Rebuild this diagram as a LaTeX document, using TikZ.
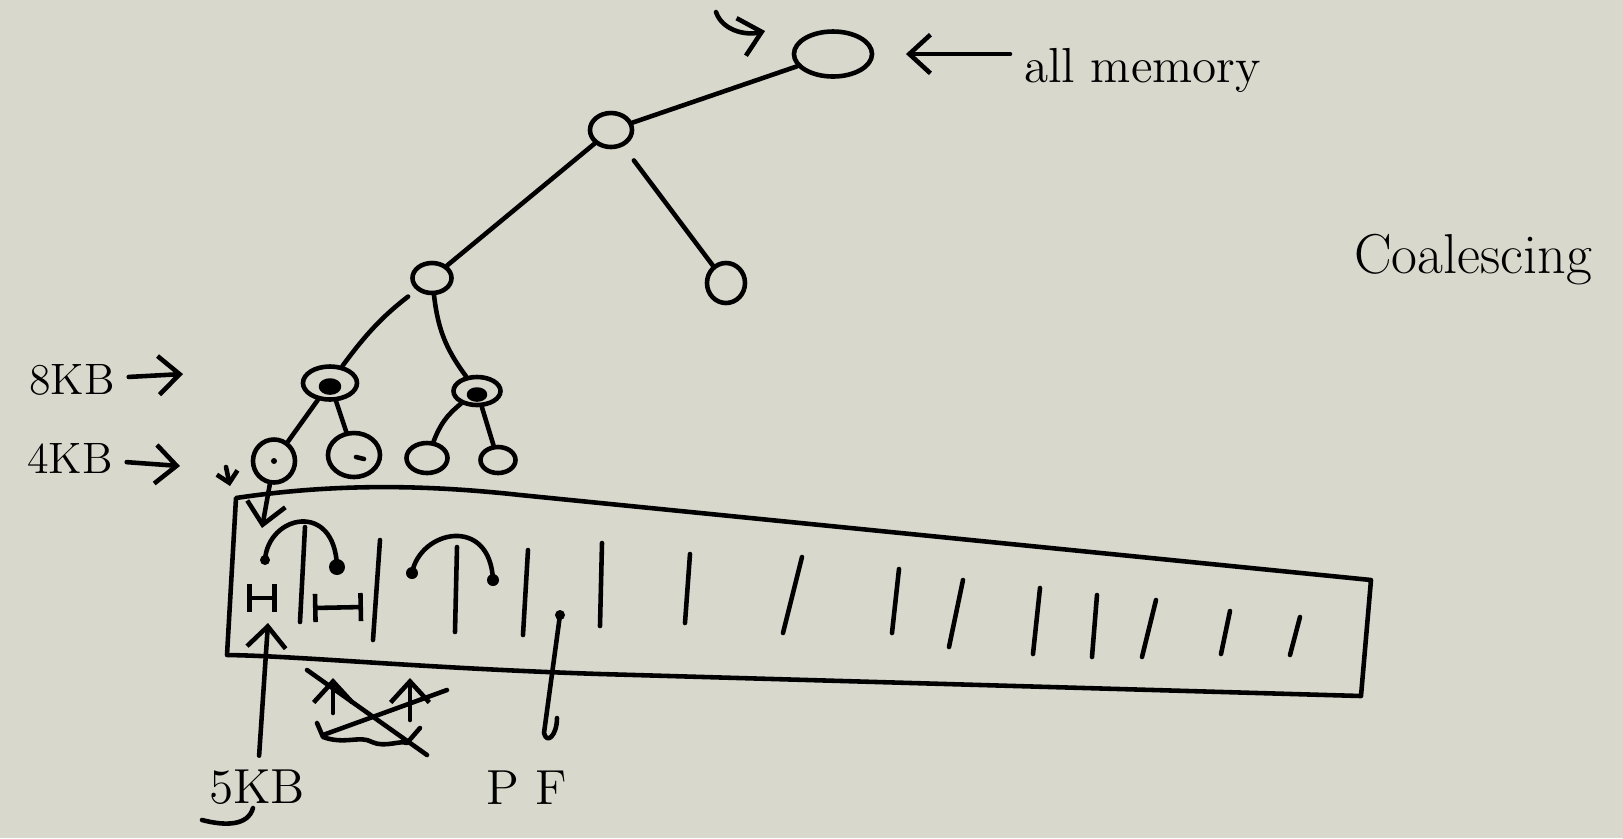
\documentclass[tikz,border=0pt]{standalone}
\usepackage{tikz}
\usetikzlibrary{shapes.geometric,arrows.meta}
\definecolor{board}{RGB}{217,216,204}
\begin{document}
\begin{tikzpicture}[x=0.01cm, y=-0.01cm, line width=1.3pt, line cap=round, line join=round,
    >={Straight Barb[length=6pt,width=11pt]},
    blob/.style={ellipse, draw, inner sep=0pt},
    hand/.style={font=\fontsize{14}{16}\selectfont}]
    \fill[board] (0,0) rectangle (1623,838);
    \useasboundingbox (0,0) rectangle (1623,838);

    % buddy tree
    \node (root) [blob, minimum width=0.78cm, minimum height=0.45cm] at (833,54) {};
    \node (n1) [blob, minimum width=0.42cm, minimum height=0.34cm] at (611,130) {};
    \node (rc) [blob, minimum width=0.38cm, minimum height=0.40cm] at (726,283) {};
    \node (n2) [blob, minimum width=0.39cm, minimum height=0.30cm] at (432,278) {};
    \node (n3) [blob, minimum width=0.54cm, minimum height=0.33cm] at (330,383) {};
    \node (n4) [blob, minimum width=0.47cm, minimum height=0.28cm] at (477,391) {};
    \node (l1) [blob, minimum width=0.42cm, minimum height=0.43cm] at (274,461) {};
    \node (l2) [blob, minimum width=0.52cm, minimum height=0.44cm] at (354,455) {};
    \node (l3) [blob, minimum width=0.41cm, minimum height=0.30cm] at (427,458) {};
    \node (l4) [blob, minimum width=0.35cm, minimum height=0.26cm] at (498,460) {};

    \draw (root) -- (n1);
    \draw[shorten <=5pt] (n1) -- (rc);
    \draw (n1) -- (n2);
    \draw[shorten <=3pt] (n2) to[bend right=8] (n3);
    \draw (n2) to[bend right=15] (n4);
    \draw (n3) -- (l1);
    \draw (n3) -- (l2);
    \draw (n4) to[bend right=15] (l3);
    \draw (n4) -- (l4);

    \draw[fill] ([yshift=-1pt]n3.center) ellipse (9 and 6);
    \draw[fill] ([yshift=-1pt]n4.center) ellipse (8 and 5);
    \fill (l1.center) circle (3);
    \draw ([shift={(2,2)}]l2.center) -- ++(8,2);

    % sizes
    \node (kb8) [hand, font=\fontsize{12.5}{15}\selectfont] at (72,380) {8KB};
    \coordinate (kb8tip) at (183,374);
    \draw[->] (kb8) -- (kb8tip);
    \node (kb4) [hand, font=\fontsize{12.5}{15}\selectfont] at (70,458) {4KB};
    \coordinate (kb4tip) at (180,466);
    \draw[->] (kb4) -- (kb4tip);
    \coordinate (tickA) at (226,467);
    \coordinate (tickB) at (230,486);
    \draw[->, >={Straight Barb[length=3pt,width=6pt]}] (tickA) -- (tickB);

    \coordinate (curlA) at (716,12);
    \coordinate (curlB) at (765,31);
    \draw[->] (curlA) .. controls (722,30) and (745,36) .. (curlB);

    \node (allmem) [hand, anchor=west] at (1010,70) {all memory};
    \draw[->, shorten >=9pt] (allmem.west |- root.east) -- (root.east);

    \node (coal) [font=\fontsize{16}{19}\selectfont] at (1473,260) {Coalescing};

    % memory strip
    \draw (236,498) .. controls (330,484) and (420,484) .. (520,495) -- (1371,580) -- (1361,696)
        -- (600,674) .. controls (420,668) and (300,656) .. (227,655) -- cycle;
    \foreach \xa/\ya/\xb/\yb in {305/527/300/622, 380/540/373/640, 457/547/455/632, 528/550/523/635,
        602/543/600/626, 690/554/685/623, 802/557/783/633, 899/569/892/633, 963/580/949/647,
        1040/588/1033/654, 1097/595/1092/657, 1156/600/1142/657, 1230/611/1221/654, 1300/617/1290/655}
        \draw (\xa,\ya) -- (\xb,\yb);

    \coordinate (a1) at (265,560);
    \coordinate (a1e) at (337,567);
    \draw (a1) .. controls (268,515) and (335,500) .. (a1e);
    \fill (a1) circle (5);
    \fill (a1e) circle (8);
    \coordinate (a2) at (412,573);
    \coordinate (a2e) at (493,580);
    \draw (a2) .. controls (420,530) and (490,515) .. (a2e);
    \fill (a2) circle (6);
    \fill (a2e) circle (6);

    \draw[{Bar[width=8pt]}-{Bar[width=8pt]}] (247,598) -- (277,598);
    \draw[{Bar[width=8pt]}-{Bar[width=8pt]}] (313,608) -- (363,607);

    \coordinate (l1in) at (262,528);
    \draw[->] (l1) -- (l1in);

    \node (kb5) [hand] at (257,787) {5KB};
    \coordinate (kb5tip) at (268,623);
    \draw[->] (kb5) -- (kb5tip);
    \draw (202,820) .. controls (225,826) and (248,826) .. (253,808);

    % crossed out
    \draw[->] (333,713) -- (333,678);
    \draw[->] (410,720) -- (410,678);
    \draw (317,723) -- (323,737) .. controls (345,745) and (360,735) .. (372,742)
        .. controls (385,748) and (400,740) .. (407,743) -- (420,728);
    \draw (307,670) -- (427,755);
    \draw (323,735) -- (447,690);

    % page fault
    \node (pf) [hand] at (527,788) {P F};
    \coordinate (pfdot) at (560,615);
    \coordinate (pfhook) at (544,733);
    \fill (pfdot) circle (5);
    \draw (pfdot) -- (pfhook) .. controls (547,745) and (557,735) .. (557,718);
\end{tikzpicture}
\end{document}
